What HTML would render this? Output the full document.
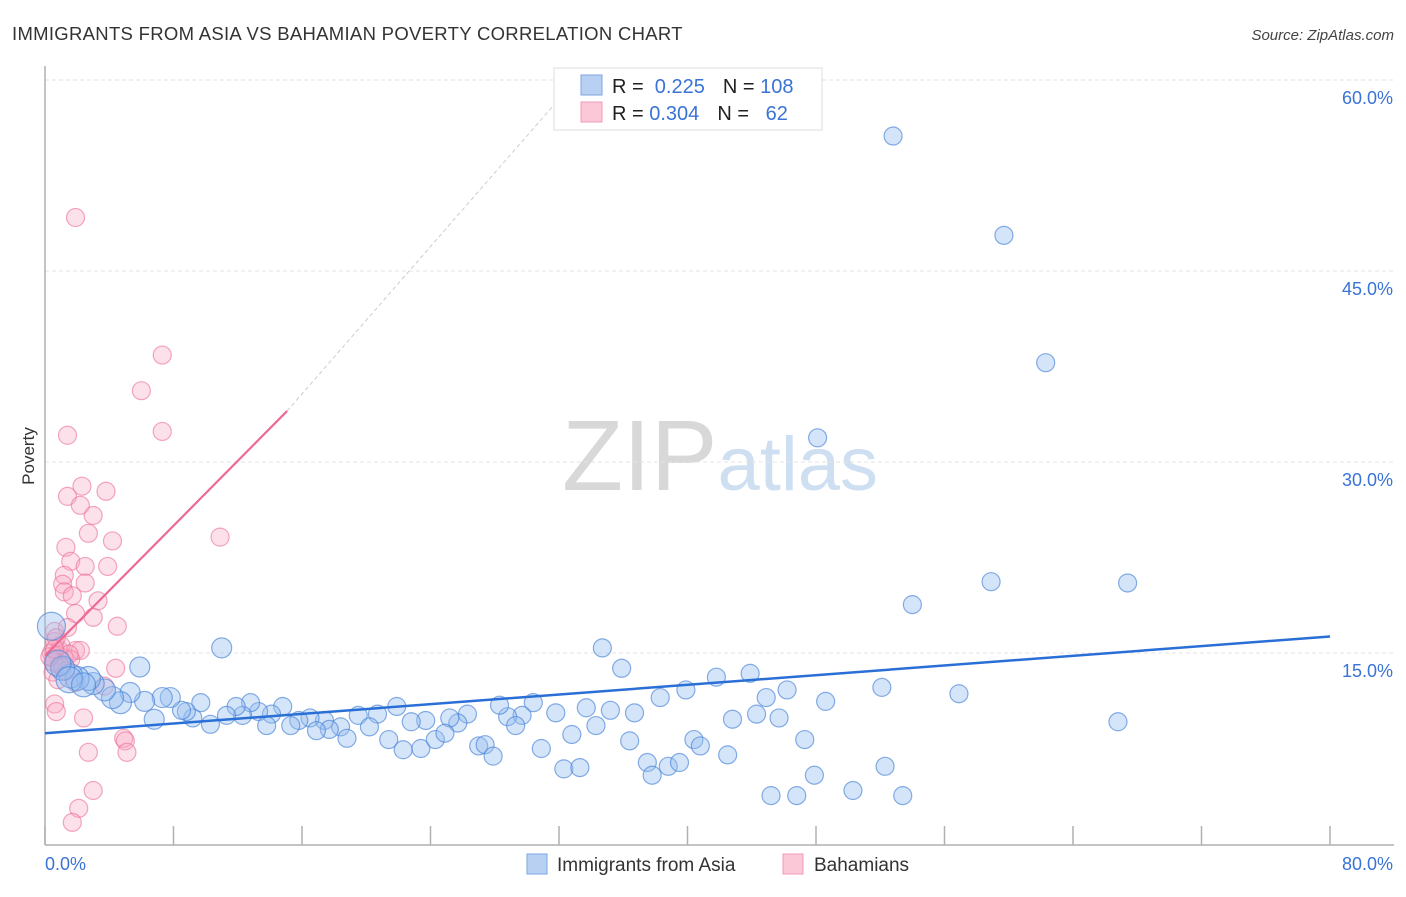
<!DOCTYPE html>
<html><head><meta charset="utf-8">
<style>
body{margin:0;background:#fff;font-family:"Liberation Sans",sans-serif;}
svg text{font-family:"Liberation Sans",sans-serif;}
</style></head>
<body>
<svg id="chart" width="1406" height="892" viewBox="0 0 1406 892" xmlns="http://www.w3.org/2000/svg">
<text x="12" y="40" font-size="18.5" letter-spacing="0.3" fill="#333">IMMIGRANTS FROM ASIA VS BAHAMIAN POVERTY CORRELATION CHART</text>
<text x="1394" y="40" font-size="15" fill="#444" text-anchor="end" font-style="italic">Source: ZipAtlas.com</text>
<text x="720" y="490" font-size="100" text-anchor="middle" fill="#ddd" font-family="Liberation Serif"><tspan fill="#d8d8d8">ZIP</tspan><tspan fill="#cfdff2" font-family="Liberation Sans" font-size="76">atlas</tspan></text>
<g id="grid"></g>
<g id="axes"></g>
<g id="pts"></g>
<g id="trends"></g>
<text transform="translate(34,456) rotate(-90)" font-size="17" fill="#333" text-anchor="middle">Poverty</text>
<g>
<rect x="554" y="68" width="268" height="62" fill="#fff" stroke="#ddd"/>
<rect x="581" y="75" width="21" height="20" fill="#b8d1f3" stroke="#7aa6e0"/>
<rect x="581" y="102" width="21" height="20" fill="#fbc8d7" stroke="#f09ab5"/>
<text x="612" y="93" font-size="20" fill="#222">R = <tspan fill="#3a73d6">&#160;0.225</tspan><tspan dx="18">N = </tspan><tspan fill="#3a73d6">108</tspan></text>
<text x="612" y="120" font-size="20" fill="#222">R = <tspan fill="#3a73d6">0.304</tspan><tspan dx="18">N = </tspan><tspan fill="#3a73d6">&#160;&#160;62</tspan></text>
</g>
<g>
<rect x="527" y="854" width="20" height="20" fill="#b8d1f3" stroke="#7aa6e0"/>
<text x="557" y="871" font-size="19" fill="#333">Immigrants from Asia</text>
<rect x="783" y="854" width="20" height="20" fill="#fbc8d7" stroke="#f09ab5"/>
<text x="814" y="871" font-size="19" fill="#333">Bahamians</text>
</g>
</svg>
<script>
const yTicks=[15,30,45,60];
const yTickLabels=["15.0%","30.0%","45.0%","60.0%"];
const xTicks=[0,8,16,24,32,40,48,56,64,72,80];
const blueX=[52.8,59.7,62.3,48.1,58.9,67.4,54.0,66.8,56.9,52.1,48.6,46.2,44.9,43.9,41.8,39.9,38.3,35.9,34.7,33.7,35.2,36.7,34.3,32.8,31.8,30.4,29.7,28.8,29.3,28.3,26.3,25.7,25.2,23.7,22.8,21.9,20.7,19.5,20.2,18.4,17.4,16.5,15.8,15.3,17.7,16.9,18.8,14.8,14.1,13.3,13.8,12.8,12.3,11.9,11.3,10.3,9.7,9.2,8.8,8.5,7.8,7.3,6.8,6.2,5.9,5.3,4.7,4.2,3.7,3.0,2.7,2.0,1.6,1.1,0.4,11.0,21.4,22.3,23.4,24.3,24.9,27.0,27.4,27.9,30.9,32.3,33.3,36.4,37.5,37.8,38.8,39.5,40.4,40.8,42.5,42.8,44.3,45.7,47.3,47.9,45.2,46.8,50.3,52.3,53.4,0.8,1.5,2.4];
const blueY=[55.6,47.8,37.8,31.9,20.6,20.5,18.8,9.6,11.8,12.3,11.2,12.1,11.5,13.4,13.1,12.1,11.5,13.8,15.4,10.7,10.5,10.3,9.3,8.6,10.3,11.1,10.1,10.0,9.3,10.9,10.2,9.5,9.9,9.7,9.6,10.8,10.2,10.1,9.2,9.2,9.7,9.9,9.7,9.3,9.0,8.9,8.3,10.8,10.2,10.4,9.3,11.1,10.1,10.8,10.1,9.4,11.1,9.9,10.4,10.5,11.5,11.5,9.8,11.2,13.9,11.9,11.1,11.5,12.1,12.6,13.0,13.0,13.2,13.8,17.1,15.4,8.2,7.4,7.5,8.2,8.7,7.7,7.8,6.9,7.5,5.9,6.0,8.1,6.4,5.4,6.1,6.4,8.2,7.7,7.0,9.8,10.2,9.9,8.2,5.4,3.8,3.8,4.2,6.1,3.8,14.2,12.9,12.5];
const blueR=[9,9,9,9,9,9,9,9,9,9,9,9,9,9,9,9,9,9,9,9,9,9,9,9,9,9,9,9,9,9,9,9,9,9,9,9,9,9,9,9,9,9,9,9,9,9,9,9,9,9,9,9,9,9,9,9,9,9,9,9,10,10,10,10,10,10,11,11,11,11,12,12,12,12,14,10,9,9,9,9,9,9,9,9,9,9,9,9,9,9,9,9,9,9,9,9,9,9,9,9,9,9,9,9,9,13,13,12];
const pinkX=[1.9,7.3,6.0,7.3,1.4,2.3,1.4,3.8,2.2,3.0,10.9,2.7,4.2,1.3,1.6,2.5,3.9,1.2,1.1,2.5,1.2,1.7,3.3,1.9,3.0,4.5,0.6,1.4,0.6,0.9,1.9,2.2,0.6,1.1,1.6,4.4,0.5,0.8,1.9,3.7,0.6,0.7,2.4,4.9,5.0,2.7,5.1,3.0,2.1,1.7,1.2,0.8,0.4,0.9,1.3,0.5,1.0,1.5,0.7,1.1,0.3,0.6];
const pinkY=[49.2,38.4,35.6,32.4,32.1,28.1,27.3,27.7,26.6,25.8,24.1,24.4,23.8,23.3,22.2,21.8,21.8,21.1,20.4,20.5,19.8,19.5,19.1,18.1,17.8,17.1,16.7,17.0,15.9,15.2,15.2,15.2,14.5,14.1,14.5,13.8,13.5,12.9,12.7,12.4,11.0,10.4,9.9,8.3,8.1,7.2,7.2,4.2,2.8,1.7,14.6,14.8,15.0,14.0,13.6,14.3,15.6,14.9,16.2,13.9,14.7,15.3];
const blueTrend=[[0,8.7],[80,16.3]];
const pinkTrend=[[0,14.8],[15.07,34.0]];
const pinkDashEnd=[32,58.5];

const NS="http://www.w3.org/2000/svg";
const X0=45,X1=1330,Y0=844,Y60=80;
function sx(v){return X0+(X1-X0)*v/80;}
function sy(v){return Y0-(Y0-Y60)*v/60;}
function mk(tag,attrs,parent){const e=document.createElementNS(NS,tag);for(const k in attrs)e.setAttribute(k,attrs[k]);parent.appendChild(e);return e;}
const grid=document.getElementById('grid'),axes=document.getElementById('axes'),pts=document.getElementById('pts'),trends=document.getElementById('trends');
yTicks.forEach((t,i)=>{
 const l=mk('line',{x1:X0,x2:1394,y1:sy(t),y2:sy(t),stroke:'#e3e3e3','stroke-dasharray':'4,3'},grid);
 
 
 const tx=mk('text',{x:1393,y:sy(t)+24,'font-size':18,fill:'#3a73d6','text-anchor':'end'},axes);
 tx.textContent=yTickLabels[i];
 
 
});
const ya=mk('line',{x1:X0,x2:X0,y1:66,y2:845,stroke:'#b0b0b0','stroke-width':1.5},axes);


const xa=mk('line',{x1:X0,x2:1394,y1:845,y2:845,stroke:'#b0b0b0','stroke-width':1.5},axes);


xTicks.forEach(t=>{
 const l=mk('line',{x1:sx(t),x2:sx(t),y1:826,y2:845,stroke:'#b0b0b0','stroke-width':1.5},axes);
 
 
});
const xl0=mk('text',{x:45,y:870,'font-size':18,fill:'#3a73d6'},axes);xl0.textContent='0.0%';


const xl1=mk('text',{x:1393,y:870,'font-size':18,fill:'#3a73d6','text-anchor':'end'},axes);xl1.textContent='80.0%';


pinkX.forEach((v,i)=>{
 const c=mk('circle',{cx:sx(v),cy:sy(pinkY[i]),r:9,fill:'rgba(248,170,195,0.35)',stroke:'rgba(235,110,150,0.6)','stroke-width':1.2},pts);
 
 
});
blueX.forEach((v,i)=>{
 const c=mk('circle',{cx:sx(v),cy:sy(blueY[i]),r:blueR[i],fill:'rgba(150,190,240,0.4)',stroke:'rgba(70,130,215,0.65)','stroke-width':1.2},pts);
 
 
});
const bt=mk('line',{x1:sx(blueTrend[0][0]),y1:sy(blueTrend[0][1]),x2:sx(blueTrend[1][0]),y2:sy(blueTrend[1][1]),stroke:'#2a6fd6','stroke-width':2.5},trends);


const pd=mk('line',{x1:sx(pinkTrend[1][0]),y1:sy(pinkTrend[1][1]),x2:sx(pinkDashEnd[0]),y2:sy(pinkDashEnd[1]),stroke:'#ccc','stroke-width':1,'stroke-dasharray':'4,3'},trends);


const pt=mk('line',{x1:sx(pinkTrend[0][0]),y1:sy(pinkTrend[0][1]),x2:sx(pinkTrend[1][0]),y2:sy(pinkTrend[1][1]),stroke:'#ec6a93','stroke-width':2.2},trends);


</script>
</body></html>
